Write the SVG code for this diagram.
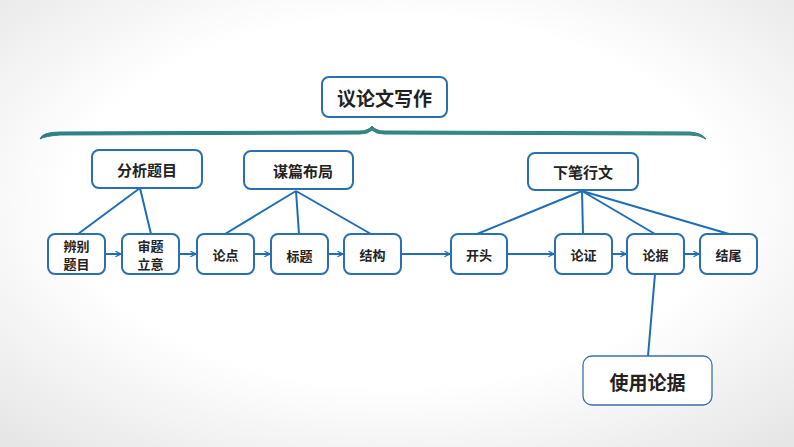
<svg xmlns="http://www.w3.org/2000/svg" width="794" height="447" viewBox="0 0 794 447">
<defs>
<radialGradient id="bg" cx="0.5" cy="0.45" r="0.75">
<stop offset="0.55" stop-color="#ffffff"/><stop offset="1" stop-color="#e4e4e4"/>
</radialGradient>
<marker id="ar" viewBox="0 0 10 10" refX="9" refY="5" markerWidth="7" markerHeight="7" orient="auto" markerUnits="userSpaceOnUse">
<path d="M1,1 L9,5 L1,9" fill="none" stroke="#1f6db5" stroke-width="1.8"/>
</marker>
<linearGradient id="br" x1="0" x2="1"><stop offset="0" stop-color="#2e7f86"/><stop offset="1" stop-color="#3a8f80"/></linearGradient>
</defs>
<style>
.b{fill:#fff;stroke:#2a6fb0;stroke-width:2}
.t{font-family:"Noto Sans CJK SC","Liberation Sans",sans-serif;font-weight:bold;fill:#222;text-anchor:middle;dominant-baseline:central}
.c{stroke:#1f6db5;stroke-width:2;fill:none}
</style>
<rect width="794" height="447" fill="url(#bg)"/>
<path d="M40,139 Q42,132 60,132 L360,131 Q368,131 372,126 Q376,131 384,131 L690,132 Q702,133 706,139 Q700,135 690,135 L384,134 Q376,134 372,130 Q368,134 360,134 L60,135 Q45,136 40,139 Z" fill="url(#br)" stroke="#2e7f86" stroke-width="1"/>
<g id="connectors">
<path class="c" d="M140,188 L78,234 M140,188 L151,234 M296,191 L225,234 M296,191 L299,234 M296,191 L371,234 M582,191 L477,234 M582,191 L583,234 M582,191 L655,234 M582,191 L729,234 M655,274 L648,356"/>
<g marker-end="url(#ar)">
<line class="c" x1="106" y1="254" x2="121" y2="254"/>
<line class="c" x1="180" y1="254" x2="196" y2="254"/>
<line class="c" x1="255" y1="254" x2="270" y2="254"/>
<line class="c" x1="329" y1="254" x2="343" y2="254"/>
<line class="c" x1="402" y1="254" x2="450" y2="254"/>
<line class="c" x1="508" y1="254" x2="554" y2="254"/>
<line class="c" x1="613" y1="254" x2="626" y2="254"/>
<line class="c" x1="685" y1="254" x2="699" y2="254"/>
</g>
</g>
<g id="n-title"><rect class="b" x="322" y="77" width="125" height="40" rx="7"/><text class="t" x="384.5" y="97" font-size="19">议论文写作</text></g>
<g id="n-fx"><rect class="b" x="92" y="150" width="110" height="38" rx="7"/><text class="t" x="147" y="169" font-size="15">分析题目</text></g>
<g id="n-mp"><rect class="b" x="244" y="151" width="109" height="38" rx="7"/><text class="t" x="303" y="170" font-size="15">谋篇布局</text></g>
<g id="n-xb"><rect class="b" x="528" y="153" width="110" height="37" rx="7"/><text class="t" x="583" y="171.5" font-size="15">下笔行文</text></g>
<g id="n1"><rect class="b" x="48" y="234" width="57" height="40" rx="7"/><text class="t" x="76.5" y="245" font-size="13">辨别</text><text class="t" x="76.5" y="263" font-size="13">题目</text></g>
<g id="n2"><rect class="b" x="122" y="234" width="57" height="40" rx="7"/><text class="t" x="150.5" y="245" font-size="13">审题</text><text class="t" x="150.5" y="263" font-size="13">立意</text></g>
<g id="n3"><rect class="b" x="197" y="234" width="57" height="40" rx="7"/><text class="t" x="225.5" y="254" font-size="13">论点</text></g>
<g id="n4"><rect class="b" x="271" y="234" width="57" height="40" rx="7"/><text class="t" x="299.5" y="255" font-size="13">标题</text></g>
<g id="n5"><rect class="b" x="344" y="234" width="57" height="40" rx="7"/><text class="t" x="372.5" y="254" font-size="13">结构</text></g>
<g id="n6"><rect class="b" x="451" y="234" width="56" height="40" rx="7"/><text class="t" x="479" y="254" font-size="13">开头</text></g>
<g id="n7"><rect class="b" x="555" y="234" width="57" height="40" rx="7"/><text class="t" x="583.5" y="254" font-size="13">论证</text></g>
<g id="n8"><rect class="b" x="627" y="234" width="57" height="40" rx="7"/><text class="t" x="655.5" y="254" font-size="13">论据</text></g>
<g id="n9"><rect class="b" x="700" y="234" width="57" height="40" rx="7"/><text class="t" x="728.5" y="254" font-size="13">结尾</text></g>
<g id="n-sy"><rect x="583" y="356" width="129" height="49" rx="9" fill="#fff" stroke="#3a6fa8" stroke-width="1.3"/><text class="t" x="647.5" y="381" font-size="19">使用论据</text></g>
</svg>
